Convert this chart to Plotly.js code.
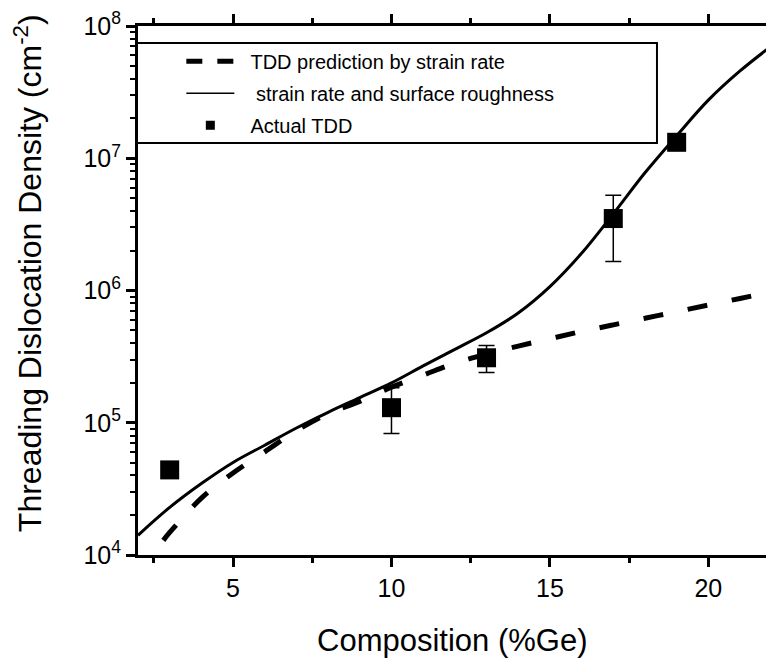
<!DOCTYPE html>
<html>
<head>
<meta charset="utf-8">
<script src="https://cdn.plot.ly/plotly-3.0.1.min.js"></script>
<style>html,body{margin:0;padding:0;background:#fff;}#chart{width:766px;height:658px;}</style>
</head>
<body>
<div id="chart"></div>
<script>
// Model curve: TDD prediction by strain rate (dashed)
var dashX = [2.8, 3, 4, 5, 6, 7, 8, 9, 10, 11, 12, 13, 14, 15, 16, 17, 18, 19, 20, 21, 22];
var dashY = [1.29e4, 1.48e4, 2.69e4, 4.17e4, 6.03e4, 8.7e4, 1.17e5, 1.45e5, 1.86e5, 2.29e5, 2.82e5, 3.31e5, 3.80e5, 4.32e5, 4.90e5, 5.50e5, 6.17e5, 6.92e5, 7.76e5, 8.71e5, 9.77e5];

// Model curve: strain rate and surface roughness (solid)
var solidX = [2, 3, 4, 5, 6, 7, 8, 9, 10, 11, 12, 13, 14, 15, 16, 17, 18, 19, 20, 21, 22];
var solidY = [1.41e4, 2.29e4, 3.47e4, 5.01e4, 6.76e4, 9.12e4, 1.2e5, 1.55e5, 2.0e5, 2.69e5, 3.59e5, 4.79e5, 6.76e5, 1.07e6, 1.91e6, 3.80e6, 7.76e6, 1.48e7, 2.75e7, 4.57e7, 7.08e7];

// Actual TDD measurements
var pointX = [3, 10, 13, 17, 19];
var pointY = [4.4e4, 1.3e5, 3.1e5, 3.5e6, 1.32e7];
var pointUpper = [4.4e4, 1.84e5, 3.83e5, 5.24e6, 1.32e7];
var pointLower = [4.4e4, 8.3e4, 2.4e5, 1.66e6, 1.32e7];

// Tick labels
var xTickVals = [5, 10, 15, 20];
var xTickText = ['5', '10', '15', '20'];
var yTickVals = [1e4, 1e5, 1e6, 1e7, 1e8];
var yTickText = ['10<sup>4</sup>', '10<sup>5</sup>', '10<sup>6</sup>', '10<sup>7</sup>', '10<sup>8</sup>'];

var legendNames = ['\u00A0\u00A0TDD prediction by strain rate', '\u00A0\u00A0\u00A0strain rate and surface roughness', '\u00A0\u00A0Actual TDD'];

var errPlus = pointY.map(function (v, i) { return pointUpper[i] - v; });
var errMinus = pointY.map(function (v, i) { return v - pointLower[i]; });

var FONT = 'Liberation Sans, Arial, sans-serif';

var traces = [
  {x: dashX, y: dashY, mode: 'lines', type: 'scatter', showlegend: false,
   line: {color: '#000', width: 5, dash: '20px,25px', shape: 'spline', smoothing: 1}},
  {x: solidX, y: solidY, mode: 'lines', type: 'scatter', showlegend: false,
   line: {color: '#000', width: 3, shape: 'spline', smoothing: 1}},
  {x: pointX, y: pointY, mode: 'markers', type: 'scatter', showlegend: false,
   marker: {symbol: 'square', size: 19, color: '#000'},
   error_y: {type: 'data', symmetric: false, array: errPlus, arrayminus: errMinus,
             color: '#000', thickness: 1.5, width: 8}},
  // legend entries
  {x: [null], y: [null], mode: 'lines', type: 'scatter', name: legendNames[0], legendgroup: 'a',
   line: {color: '#000', width: 5, dash: '16px,15px'}},
  {x: [null], y: [null], mode: 'lines', type: 'scatter', name: legendNames[1], legendgroup: 'b',
   line: {color: '#000', width: 1.5}},
  {x: [null], y: [null], mode: 'markers', type: 'scatter', name: legendNames[2], legendgroup: 'c',
   marker: {symbol: 'square', size: 9, color: '#000'}}
];

var layout = {
  width: 766, height: 658,
  margin: {l: 138, r: 0, t: 26, b: 103, pad: 0},
  paper_bgcolor: '#fff', plot_bgcolor: '#fff',
  font: {family: FONT, color: '#000'},
  showlegend: true,
  legend: {x: 0.069, y: 0.970, xanchor: 'left', yanchor: 'top', bgcolor: 'rgba(0,0,0,0)',
           borderwidth: 0, font: {family: FONT, size: 20, color: '#000'},
           itemwidth: 48, tracegroupgap: 3},
  xaxis: {range: [2, 21.82], tickmode: 'array', tickvals: xTickVals, ticktext: xTickText,
          ticks: 'outside', ticklen: 9, tickwidth: 3, tickcolor: '#000',
          showline: true, linewidth: 3, linecolor: '#000', mirror: 'ticks',
          showgrid: false, zeroline: false,
          tickfont: {family: FONT, size: 25, color: '#000'},
          minor: {dtick: 2.5, tick0: 0, ticks: 'outside', ticklen: 5, tickwidth: 3, tickcolor: '#000', showgrid: false}},
  yaxis: {type: 'log', range: [4, 8], tickmode: 'array', tickvals: yTickVals, ticktext: yTickText,
          ticks: 'outside', ticklen: 9, tickwidth: 3, tickcolor: '#000',
          showline: true, linewidth: 3, linecolor: '#000', mirror: false,
          showgrid: false, zeroline: false,
          tickfont: {family: FONT, size: 25, color: '#000'},
          minor: {dtick: 'D1', ticks: 'outside', ticklen: 5, tickwidth: 2, tickcolor: '#000', showgrid: false}},
  shapes: [
    {type: 'rect', xref: 'paper', yref: 'paper', x0: -0.0016, x1: 0.8264, y0: 0.7788, y1: 0.9679,
     line: {color: '#000', width: 2}, fillcolor: '#fff', layer: 'above'}
  ],
  annotations: [
    {text: 'Composition (%Ge)', xref: 'paper', yref: 'paper', x: 0.5, y: -0.161,
     xanchor: 'center', yanchor: 'middle', showarrow: false,
     font: {family: FONT, size: 31, color: '#000'}},
    {text: 'Threading Dislocation Density (cm<sup>-2</sup>)', xref: 'paper', yref: 'paper',
     x: -0.175, y: 0.533, xanchor: 'center', yanchor: 'middle', textangle: -90, showarrow: false,
     font: {family: FONT, size: 32, color: '#000'}}
  ]
};

Plotly.newPlot('chart', traces, layout, {displayModeBar: false, staticPlot: true});
</script>
</body>
</html>
